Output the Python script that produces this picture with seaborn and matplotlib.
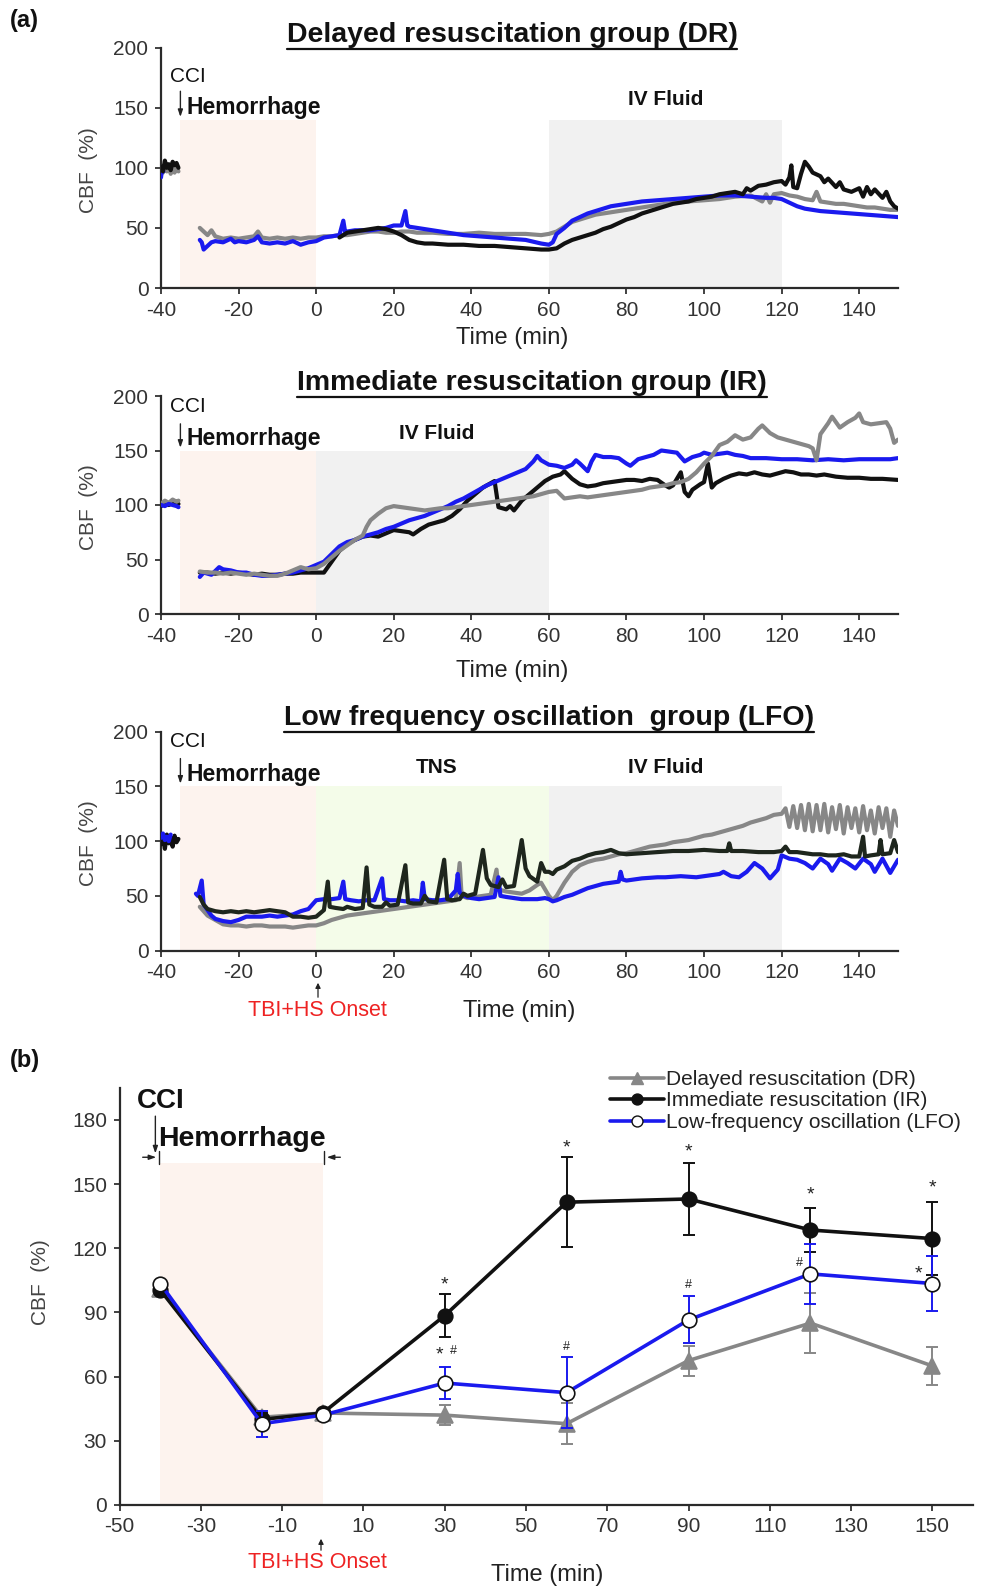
import numpy as np
import pandas as pd
import matplotlib
matplotlib.use("Agg")
import matplotlib.pyplot as plt
import seaborn as sns
from matplotlib.lines import Line2D

# ---------------- DATA (panel a: CBF traces, (time min, CBF %)) ----------------
DR_BASE_BLACK = [(-40, 101), (-39.5, 97), (-39, 106), (-38.5, 100), (-38, 103), (-37.5, 98), (-37, 105), (-36.5, 102), (-36, 104), (-35.5, 100)]
DR_BASE_GRAY = [(-40, 98), (-39.5, 96), (-39, 100), (-38.5, 97), (-38, 101), (-37.5, 95), (-37, 99), (-36.5, 96), (-36, 100), (-35.5, 97)]
DR_BASE_BLUE = [(-40, 92), (-39.7, 99), (-39.4, 97)]
DR_GRAY = [(-30, 50), (-29, 47), (-28, 44), (-27, 48), (-26, 43), (-25, 42), (-24, 41), (-22, 42), (-20, 41), (-18, 42), (-16, 43), (-15, 47), (-14, 42), (-12, 41), (-10, 42), (-8, 41), (-6, 42), (-4, 41), (-2, 42), (0, 42), (2, 43), (4, 43), (6, 44), (8, 44), (10, 45), (12, 46), (14, 47), (16, 47), (18, 46), (20, 46), (22, 47), (24, 47), (26, 46), (28, 46), (30, 46), (34, 45), (38, 45), (42, 46), (46, 45), (50, 45), (54, 45), (58, 44), (60, 45), (62, 47), (64, 51), (66, 55), (68, 57), (70, 59), (72, 61), (74, 62), (76, 63), (78, 64), (80, 65), (84, 67), (88, 69), (92, 71), (96, 72), (100, 73), (104, 74), (108, 76), (112, 77), (115, 72), (116, 78), (117, 71), (118, 78), (120, 79), (122, 77), (124, 76), (126, 74), (128, 73), (129, 80), (130, 72), (132, 71), (134, 70), (136, 70), (138, 69), (140, 68), (142, 67), (144, 67), (146, 66), (148, 65), (150, 65)]
DR_BLUE = [(-30, 40), (-29.5, 38), (-29, 32), (-28, 35), (-27, 38), (-26, 39), (-24, 38), (-22, 41), (-21, 38), (-20, 39), (-18, 38), (-16, 40), (-15, 43), (-14, 38), (-12, 37), (-10, 38), (-8, 37), (-6, 39), (-4, 36), (-2, 38), (0, 39), (2, 42), (4, 43), (6, 44), (7, 56), (7.5, 46), (8, 47), (10, 48), (12, 48), (14, 48), (16, 49), (18, 50), (20, 52), (22, 52), (23, 64), (23.5, 52), (24, 51), (26, 50), (28, 49), (30, 48), (32, 47), (34, 46), (38, 44), (42, 43), (46, 42), (50, 41), (54, 40), (58, 37), (60, 36), (61, 38), (62, 45), (64, 50), (66, 56), (68, 59), (70, 62), (72, 64), (74, 66), (76, 68), (78, 69), (80, 70), (84, 72), (88, 73), (92, 74), (96, 75), (100, 76), (104, 77), (108, 77), (112, 76), (116, 75), (118, 75), (120, 74), (122, 71), (124, 68), (126, 66), (128, 65), (130, 64), (134, 63), (138, 62), (142, 61), (146, 60), (150, 59)]
DR_BLACK = [(6, 42), (7, 44), (8, 46), (10, 47), (12, 48), (14, 49), (16, 50), (18, 49), (20, 47), (22, 44), (24, 40), (26, 38), (28, 37), (30, 37), (34, 36), (38, 36), (42, 35), (46, 35), (50, 34), (54, 33), (58, 32), (60, 32), (62, 33), (64, 37), (66, 40), (68, 42), (70, 44), (72, 46), (74, 49), (76, 51), (78, 54), (80, 57), (82, 59), (84, 62), (86, 64), (88, 66), (90, 68), (92, 70), (94, 71), (96, 72), (98, 74), (100, 75), (102, 76), (104, 78), (106, 79), (108, 80), (110, 78), (111, 83), (112, 81), (114, 85), (116, 86), (118, 88), (120, 89), (121, 86), (122, 92), (122.5, 102), (123, 84), (124, 83), (125, 95), (126, 105), (127, 101), (128, 96), (130, 93), (131, 88), (132, 91), (134, 84), (135, 88), (136, 82), (138, 80), (140, 83), (141, 76), (142, 84), (143, 78), (144, 82), (146, 75), (147, 80), (148, 72), (149, 68), (150, 66)]

IR_BASE_BLACK = [(-40, 99), (-39, 101), (-38, 100), (-37, 102), (-36, 100), (-35.5, 101)]
IR_BASE_GRAY = [(-40, 101), (-39, 104), (-38, 102), (-37, 105), (-36, 103), (-35.5, 104)]
IR_BASE_BLUE = [(-40, 100), (-39, 99), (-38, 101), (-37, 100), (-36, 99), (-35.5, 98)]
IR_BLUE = [(-30, 34), (-29, 38), (-27, 36), (-25, 43), (-24, 41), (-22, 40), (-20, 38), (-18, 38), (-16, 36), (-14, 35), (-12, 35), (-10, 36), (-8, 37), (-6, 38), (-4, 40), (-2, 42), (0, 45), (2, 48), (4, 55), (6, 62), (8, 66), (10, 68), (12, 71), (14, 73), (16, 75), (18, 78), (20, 80), (22, 83), (24, 86), (26, 88), (28, 90), (30, 93), (32, 96), (34, 99), (36, 103), (38, 106), (40, 110), (42, 114), (44, 118), (46, 121), (48, 124), (50, 127), (52, 130), (54, 133), (56, 140), (57, 145), (58, 141), (60, 137), (62, 136), (64, 134), (66, 137), (67, 141), (68, 138), (70, 131), (71, 140), (72, 146), (74, 144), (76, 144), (78, 143), (80, 138), (81, 136), (83, 142), (85, 144), (87, 146), (89, 150), (91, 149), (93, 148), (95, 140), (97, 144), (99, 146), (100, 148), (102, 146), (104, 147), (106, 148), (108, 146), (110, 145), (112, 143), (116, 143), (120, 142), (124, 142), (128, 141), (132, 142), (136, 141), (140, 142), (144, 142), (148, 142), (150, 143)]
IR_BLACK = [(-30, 38), (-28, 38), (-26, 37), (-24, 38), (-22, 37), (-20, 38), (-18, 37), (-16, 36), (-14, 37), (-12, 36), (-10, 36), (-8, 37), (-6, 37), (-4, 38), (-2, 38), (0, 38), (2, 38), (4, 48), (6, 58), (8, 64), (10, 68), (12, 71), (14, 72), (16, 71), (18, 74), (20, 77), (22, 76), (24, 75), (25, 73), (27, 78), (29, 82), (31, 84), (33, 86), (35, 90), (37, 96), (39, 104), (41, 110), (43, 116), (45, 120), (46, 122), (47, 98), (49, 96), (50, 99), (51, 95), (53, 104), (55, 110), (57, 116), (59, 122), (61, 126), (63, 128), (64, 131), (66, 124), (68, 119), (70, 117), (72, 118), (74, 120), (76, 121), (78, 122), (80, 123), (82, 123), (84, 122), (86, 124), (88, 123), (90, 118), (91, 116), (92, 118), (94, 130), (95, 112), (96, 108), (97, 114), (99, 119), (100, 121), (101, 138), (102, 116), (103, 120), (105, 124), (107, 127), (109, 129), (111, 128), (113, 130), (115, 128), (117, 127), (119, 129), (121, 131), (123, 130), (125, 128), (127, 128), (129, 127), (131, 128), (134, 126), (137, 125), (140, 125), (143, 124), (146, 124), (150, 123)]
IR_GRAY = [(-30, 39), (-28, 38), (-26, 38), (-24, 37), (-22, 38), (-20, 37), (-18, 36), (-16, 37), (-14, 36), (-12, 35), (-10, 35), (-8, 37), (-6, 40), (-4, 43), (-2, 41), (0, 42), (2, 46), (4, 52), (6, 58), (8, 63), (10, 68), (12, 72), (13, 80), (14, 86), (16, 92), (18, 97), (20, 99), (22, 98), (24, 97), (26, 96), (28, 95), (30, 96), (32, 97), (34, 97), (36, 98), (38, 99), (40, 100), (42, 101), (44, 102), (46, 103), (48, 104), (50, 105), (52, 106), (54, 107), (56, 108), (58, 110), (60, 112), (62, 113), (64, 106), (66, 107), (68, 108), (70, 107), (72, 108), (74, 109), (76, 110), (78, 111), (80, 112), (82, 113), (84, 114), (86, 116), (88, 117), (90, 118), (92, 120), (94, 121), (96, 124), (98, 130), (100, 138), (102, 145), (104, 155), (106, 158), (108, 164), (110, 160), (112, 162), (114, 170), (115, 173), (117, 166), (119, 162), (121, 160), (123, 158), (125, 156), (127, 154), (128, 152), (129, 141), (130, 165), (132, 175), (133, 181), (135, 171), (137, 176), (139, 180), (140, 184), (141, 176), (143, 174), (145, 175), (147, 176), (148, 170), (149, 157), (150, 160)]

LFO_BASE_BLACK = [(-40, 97), (-39.5, 104), (-39, 93), (-38.5, 106), (-38, 98), (-37.5, 103), (-37, 95), (-36.5, 105), (-36, 99), (-35.5, 102)]
LFO_BASE_BLUE = [(-40, 103), (-39.5, 107), (-39, 101), (-38.5, 104), (-38, 100), (-37.5, 106)]
LFO_BLUE = [(-31, 52), (-30.5, 50), (-29.5, 64), (-29, 42), (-28, 37), (-27, 32), (-26, 29), (-24, 27), (-22, 26), (-20, 28), (-18, 31), (-16, 31), (-14, 31), (-12, 32), (-10, 31), (-8, 32), (-6, 33), (-4, 36), (-2, 38), (0, 46), (2, 47), (4, 47), (6, 48), (7, 63), (7.5, 47), (9, 46), (11, 45), (13, 46), (15, 46), (17, 66), (17.5, 47), (19, 46), (21, 46), (23, 45), (25, 46), (27, 45), (27.5, 62), (28, 47), (30, 46), (32, 46), (34, 47), (36, 55), (36.5, 70), (37, 53), (38, 50), (40, 48), (42, 47), (44, 48), (46, 49), (47, 67), (47.5, 50), (49, 49), (51, 48), (53, 47), (55, 47), (57, 47), (59, 48), (60, 47), (61, 45), (62, 46), (64, 49), (66, 51), (68, 54), (70, 57), (72, 59), (74, 61), (76, 62), (78, 63), (78.5, 72), (79, 65), (80, 64), (84, 66), (88, 67), (90, 67), (94, 68), (98, 67), (100, 68), (102, 69), (104, 70), (105, 72), (107, 68), (109, 67), (111, 72), (113, 80), (115, 75), (117, 66), (119, 74), (120, 87), (122, 84), (124, 83), (126, 80), (128, 75), (130, 84), (132, 79), (133, 73), (135, 84), (137, 80), (139, 75), (141, 84), (143, 79), (144, 72), (146, 84), (148, 71), (150, 83)]
LFO_BLACK = [(-30, 49), (-29, 42), (-28, 38), (-27, 37), (-26, 36), (-24, 35), (-22, 36), (-20, 35), (-18, 36), (-16, 35), (-14, 36), (-12, 37), (-10, 36), (-8, 35), (-6, 31), (-4, 31), (-2, 30), (0, 31), (2, 37), (3, 63), (3.5, 40), (5, 39), (7, 38), (8, 40), (10, 38), (12, 39), (13, 76), (13.7, 42), (15, 40), (17, 40), (18, 44), (19, 41), (21, 42), (23, 78), (23.7, 44), (25, 43), (27, 43), (28, 50), (29, 45), (31, 44), (33, 83), (33.8, 47), (35, 46), (37, 47), (38, 52), (39, 50), (41, 52), (43, 92), (44, 66), (45, 60), (47, 58), (48, 65), (49, 58), (51, 59), (53, 101), (54, 75), (55, 68), (57, 63), (58, 80), (59, 72), (60, 72), (61, 70), (62, 74), (64, 77), (66, 82), (68, 84), (70, 87), (72, 89), (74, 90), (76, 92), (78, 89), (80, 88), (84, 89), (88, 90), (92, 91), (96, 91), (100, 92), (104, 91), (106, 91), (106.5, 98), (107, 91), (110, 91), (114, 90), (118, 90), (120, 91), (121, 95), (122, 90), (124, 90), (126, 89), (128, 88), (130, 88), (132, 87), (134, 87), (136, 88), (138, 86), (140, 86), (141, 104), (141.5, 86), (143, 87), (145, 88), (145.5, 101), (146, 88), (148, 89), (149, 101), (150, 90)]
LFO_GRAY = [(-30, 40), (-29, 36), (-28, 32), (-26, 28), (-24, 24), (-22, 23), (-20, 23), (-18, 22), (-16, 23), (-14, 23), (-12, 22), (-10, 22), (-8, 22), (-6, 21), (-4, 22), (-2, 23), (0, 23), (2, 25), (4, 28), (6, 30), (8, 32), (10, 33), (12, 34), (14, 35), (16, 36), (18, 37), (20, 38), (22, 39), (24, 40), (26, 41), (28, 42), (30, 43), (32, 44), (34, 45), (36, 46), (37, 80), (37.5, 50), (39, 48), (41, 49), (43, 50), (45, 51), (46.5, 74), (47, 56), (49, 54), (51, 53), (53, 52), (55, 55), (57, 60), (58, 62), (60, 50), (61, 46), (62, 50), (64, 62), (66, 72), (68, 78), (70, 81), (72, 83), (74, 84), (76, 86), (78, 88), (80, 89), (82, 91), (84, 93), (86, 95), (88, 96), (90, 97), (92, 99), (94, 100), (96, 101), (98, 103), (100, 105), (102, 106), (104, 108), (106, 110), (108, 112), (110, 114), (112, 117), (114, 119), (116, 121), (118, 124), (120, 125), (121, 130), (122, 113), (123, 132), (124, 112), (125, 133), (126, 110), (127, 134), (128, 109), (129, 133), (130, 110), (131, 134), (132, 108), (133, 131), (134, 111), (135, 133), (136, 107), (137, 131), (138, 112), (139, 130), (140, 108), (141, 132), (142, 110), (143, 128), (144, 107), (145, 131), (146, 112), (147, 130), (148, 104), (149, 128), (150, 114)]

# ---------------- DATA (panel b: group means +/- error) ----------------
B_TIME = [-40, -15, 0, 30, 60, 90, 120, 150]
B_DR_MEAN = [101, 41, 43, 42, 38, 67.5, 85, 65]
B_DR_ERR = [0, 3, 0, 4.5, 9.5, 7, 14, 9]
B_IR_MEAN = [100.5, 40, 43, 88.5, 141.5, 143, 128.5, 124.5]
B_IR_ERR = [0, 3, 0, 10, 21, 17, 10.5, 17]
B_LFO_MEAN = [103.5, 38, 42, 57, 52.5, 86.5, 108, 103.5]
B_LFO_ERR = [0, 6, 0, 7.5, 16.5, 11, 14, 13]
B_LABELS = ["Delayed resuscitation (DR)", "Immediate resuscitation (IR)", "Low-frequency oscillation (LFO)"]
A_TITLES = ["Delayed resuscitation group (DR)", "Immediate resuscitation group (IR)", "Low frequency oscillation  group (LFO)"]

# ---------------- STYLE ----------------
sns.set_theme(style="ticks")
NARROW = ["Liberation Sans Narrow", "Liberation Sans", "DejaVu Sans"]
plt.rcParams["font.family"] = NARROW
plt.rcParams["axes.edgecolor"] = "#2a2a2a"

BLUE = "#1a1aee"
BLACK = "#111111"
GRAY = "#878787"
DARK = "#1e261d"
PEACH = "#fdf3ee"
LGRAY = "#f1f1f1"
LGREEN = "#f4fce9"
TICKC = "#333333"

W, H = 981, 1589
fig = plt.figure(figsize=(W / 100, H / 100), dpi=100)


def fx(x):
    return x / W


def fy(y):
    return 1 - y / H


def add_axes_px(x0, y_top, x1, y_bot):
    return fig.add_axes([fx(x0), fy(y_bot), fx(x1) - fx(x0), (y_bot - y_top) / H])


def trace(ax, pairs, color, lw=3.0, z=3):
    df = pd.DataFrame(pairs, columns=["t", "v"])
    sns.lineplot(data=df, x="t", y="v", ax=ax, color=color, lw=lw,
                 estimator=None, sort=False, zorder=z, legend=False)


def style_axes(ax, xt, yt, xlim, ylim):
    ax.set_xlim(*xlim)
    ax.set_ylim(*ylim)
    ax.set_xticks(xt)
    ax.set_yticks(yt)
    ax.set_xticklabels([str(v) for v in xt])
    ax.set_yticklabels([str(v) for v in yt])
    sns.despine(ax=ax)
    for s in ("left", "bottom"):
        ax.spines[s].set_linewidth(1.6)
    ax.tick_params(direction="out", length=4, width=1.3, labelsize=15,
                   colors=TICKC, pad=5)
    ax.set_xlabel("")
    ax.set_ylabel("")
    ax.set_facecolor("white")


titles = []

# panel a axes (pixel boxes)
boxes = [(161, 47.6, 898, 288), (161, 396, 898, 614), (161, 731.7, 898, 950.6)]
title_pos = [(512, 35), (532, 383), (549, 718)]
xlab_pos = [(512, 338), (512, 671), (519, 1011)]
cci_y = [(176, 166, 140, 150), (190, 177, 150, 161), (191, 178, 150, 161)]

panels = [
    dict(base=[(DR_BASE_GRAY, GRAY), (DR_BASE_BLUE, BLUE), (DR_BASE_BLACK, BLACK)],
         tr=[(DR_GRAY, GRAY), (DR_BLUE, BLUE), (DR_BLACK, BLACK)],
         shades=[(-35, 0, 140, PEACH), (60, 120, 140, LGRAY)],
         labels=[("IV Fluid", 90, 157)]),
    dict(base=[(IR_BASE_BLACK, BLACK), (IR_BASE_GRAY, GRAY), (IR_BASE_BLUE, BLUE)],
         tr=[(IR_BLACK, BLACK), (IR_BLUE, BLUE), (IR_GRAY, GRAY)],
         shades=[(-35, 0, 150, PEACH), (0, 60, 150, LGRAY)],
         labels=[("IV Fluid", 31, 166)]),
    dict(base=[(LFO_BASE_BLACK, BLACK), (LFO_BASE_BLUE, BLUE)],
         tr=[(LFO_GRAY, GRAY), (LFO_BLUE, BLUE), (LFO_BLACK, DARK)],
         shades=[(-35, 0, 150, PEACH), (0, 60, 150, LGREEN), (60, 120, 150, LGRAY)],
         labels=[("TNS", 31, 167), ("IV Fluid", 90, 167)]),
]

for i, p in enumerate(panels):
    ax = add_axes_px(*boxes[i])
    for (a, b, top, c) in p["shades"]:
        ax.fill_between([a, b], 0, top, color=c, lw=0, zorder=0)
    for pairs, c in p["base"]:
        trace(ax, pairs, c, z=3)
    for pairs, c in p["tr"]:
        trace(ax, pairs, c, z=3)
    style_axes(ax, list(range(-40, 141, 20)), list(range(0, 201, 50)), (-40, 150), (0, 200))
    cy, a0, a1, hy = cci_y[i]
    ax.text(-37.6, cy, "CCI", fontsize=15, color="#111111", va="center", ha="left")
    ax.annotate("", xy=(-35, a1), xytext=(-35, a0),
                arrowprops=dict(arrowstyle="-|>,head_length=0.35,head_width=0.12", color="#222222", lw=1.0))
    ax.text(-33.4, hy, "Hemorrhage", fontsize=16.5, fontweight="bold", color="#111111", va="center", ha="left")
    for txt, tx, ty in p["labels"]:
        ax.text(tx, ty, txt, fontsize=15, fontweight="bold", color="#111111", va="center", ha="center")
    t = fig.text(fx(title_pos[i][0]), fy(title_pos[i][1]), A_TITLES[i], fontsize=20.5,
                 fontweight="bold", ha="center", va="center", color="#111111")
    titles.append(t)
    fig.text(fx(xlab_pos[i][0]), fy(xlab_pos[i][1]), "Time (min)", fontsize=17, ha="center", va="center", color="#222222")
    fig.text(fx(89), fy((boxes[i][1] + boxes[i][3]) / 2 + 2), "CBF  (%)", fontsize=15, rotation=90,
             ha="center", va="center", color="#444444", family=["Liberation Sans", "DejaVu Sans"])

# TBI+HS onset in LFO panel
fig.text(fx(317), fy(1010), "TBI+HS Onset", fontsize=15.5, color="#ee2222", ha="center", va="center")
fig.add_artist(plt.matplotlib.patches.FancyArrowPatch((fx(318), fy(1000)), (fx(318), fy(980)),
               transform=fig.transFigure, arrowstyle="-|>,head_length=3,head_width=1.5", color="#222222", lw=0.9))

# ---------------- panel b ----------------
axb = add_axes_px(119.6, 1087.7, 973, 1505)
axb.fill_between([-40, 0], 0, 160, color=PEACH, lw=0, zorder=0)

groups = [
    (B_DR_MEAN, B_DR_ERR, GRAY, "^", GRAY, GRAY, 11, B_LABELS[0]),
    (B_IR_MEAN, B_IR_ERR, BLACK, "o", BLACK, BLACK, 10.5, B_LABELS[1]),
    (B_LFO_MEAN, B_LFO_ERR, BLUE, "o", "white", BLACK, 10.5, B_LABELS[2]),
]
handles = []
for k, (m, e, c, mk, mfc, mec, ms, lab) in enumerate(groups):
    df = pd.DataFrame({"t": B_TIME, "v": m})
    axb.errorbar(B_TIME, m, yerr=e, fmt="none", ecolor=c, elinewidth=1.4, capsize=4.5, capthick=1.4, zorder=3 + k)
    sns.lineplot(data=df, x="t", y="v", ax=axb, color=c, lw=2.6, marker=mk, markersize=ms,
                 markerfacecolor=mfc, markeredgecolor=mec, markeredgewidth=1.2,
                 estimator=None, sort=False, zorder=4 + k, legend=False)
    handles.append(Line2D([], [], color=c, lw=2.6, marker=mk, markersize=ms * 0.75,
                          markerfacecolor=mfc, markeredgecolor=mec, markeredgewidth=1.0))

style_axes(axb, list(range(-50, 151, 20)), list(range(0, 181, 30)), (-50, 160), (0, 195))

leg = axb.legend(handles, B_LABELS, loc="upper left", bbox_to_anchor=(fx(610), fy(1070)),
                 bbox_transform=fig.transFigure, frameon=False, fontsize=15, handlelength=2.6,
                 handletextpad=0.1, labelspacing=0.12, borderpad=0, borderaxespad=0)
for txt in leg.get_texts():
    txt.set_color("#222222")

# significance marks
for (tx, ty) in [(30, 103), (60, 167), (90, 165), (120, 145), (150, 148)]:
    axb.text(tx, ty, "*", fontsize=14, ha="center", va="center", color="#222222")
axb.text(28.6, 70, "*", fontsize=14, ha="center", va="center", color="#222222")
axb.text(32.2, 72, "#", fontsize=9, ha="center", va="center", color="#222222")
for (tx, ty) in [(60, 74), (90, 103), (117.3, 113)]:
    axb.text(tx, ty, "#", fontsize=9, ha="center", va="center", color="#222222")
axb.text(146.5, 108, "*", fontsize=14, ha="center", va="center", color="#222222")

axb.text(-45.8, 189, "CCI", fontsize=20, fontweight="bold", color="#111111", va="center", ha="left")
axb.text(-40.6, 171, "Hemorrhage", fontsize=20.5, fontweight="bold", color="#111111", va="center", ha="left")
axb.annotate("", xy=(-41.2, 163), xytext=(-41.2, 183),
             arrowprops=dict(arrowstyle="-|>,head_length=0.35,head_width=0.12", color="#222222", lw=1.0))
axb.annotate("", xy=(-40.3, 162.5), xytext=(-45, 162.5),
             arrowprops=dict(arrowstyle="-|>,head_length=0.35,head_width=0.12", color="#222222", lw=1.0))
axb.annotate("", xy=(0.3, 162.5), xytext=(5, 162.5),
             arrowprops=dict(arrowstyle="-|>,head_length=0.35,head_width=0.12", color="#222222", lw=1.0))
axb.plot([-40.3, -40.3], [159.5, 165.5], color="#222222", lw=1.0)
axb.plot([0.3, 0.3], [159.5, 165.5], color="#222222", lw=1.0)

fig.text(fx(41), fy(1282), "CBF  (%)", fontsize=15, rotation=90, ha="center", va="center",
         color="#444444", family=["Liberation Sans", "DejaVu Sans"])
fig.text(fx(547), fy(1575), "Time (min)", fontsize=17, ha="center", va="center", color="#222222")
fig.text(fx(317), fy(1562), "TBI+HS Onset", fontsize=15.5, color="#ee2222", ha="center", va="center")
fig.add_artist(plt.matplotlib.patches.FancyArrowPatch((fx(321), fy(1553)), (fx(321), fy(1536)),
               transform=fig.transFigure, arrowstyle="-|>,head_length=3,head_width=1.5", color="#222222", lw=0.9))

fig.text(fx(10), fy(20), "(a)", fontsize=17, fontweight="bold", ha="left", va="center",
         family=["Liberation Sans", "DejaVu Sans"], color="#111111")
fig.text(fx(10), fy(1060), "(b)", fontsize=17, fontweight="bold", ha="left", va="center",
         family=["Liberation Sans", "DejaVu Sans"], color="#111111")

# underline panel titles
fig.canvas.draw()
inv = fig.transFigure.inverted()
for t in titles:
    bb = t.get_window_extent(renderer=fig.canvas.get_renderer())
    (x0, y0), (x1, _) = inv.transform([(bb.x0, bb.y0), (bb.x1, bb.y1)])
    fig.add_artist(Line2D([x0, x1], [y0 - 1.0 / H, y0 - 1.0 / H], transform=fig.transFigure,
                          color="#111111", lw=1.6))

fig.savefig("out.png", dpi=100, facecolor="white")
